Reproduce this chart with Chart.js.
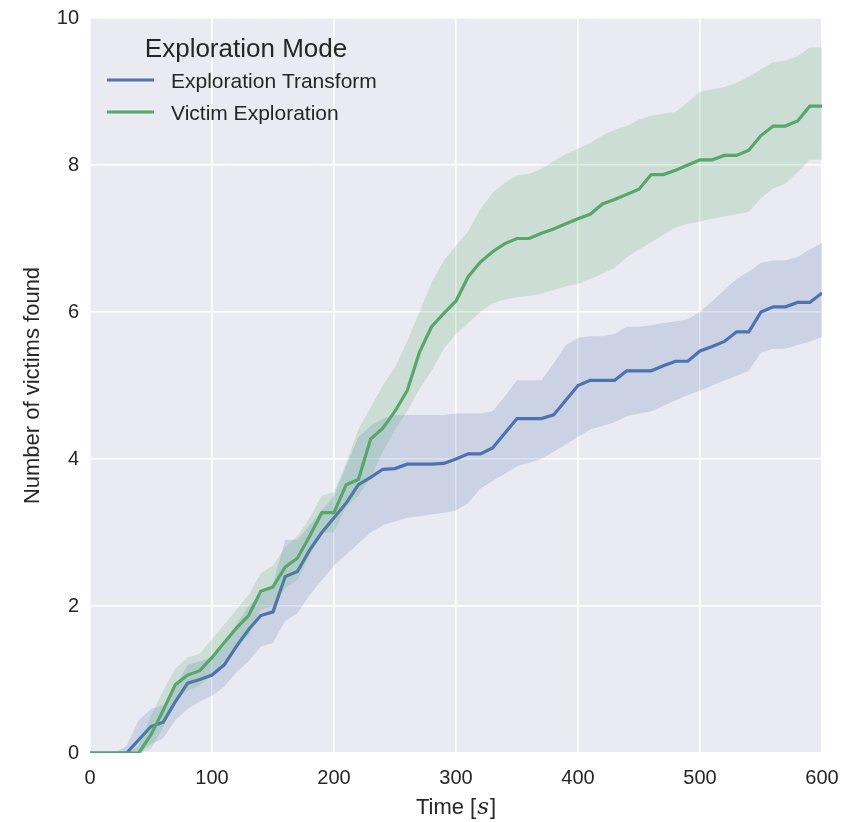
<!DOCTYPE html>
<html lang="en">
<head>
  <meta charset="UTF-8">
  <title>Number of victims found over time</title>
  <script src="https://cdn.jsdelivr.net/npm/chart.js"></script>
  <style>
    html, body { margin: 0; padding: 0; background: #fff; }
    #wrap { width: 859px; height: 822px; }
  </style>
</head>
<body>
<div id="wrap"><canvas id="victimsChart" width="859" height="822"></canvas></div>

<script>
  // time in seconds, one sample every 10 s
  const times = [0, 10, 20, 30, 40, 50, 60, 70, 80, 90,
    100, 110, 120, 130, 140, 150, 160, 170, 180, 190,
    200, 210, 220, 230, 240, 250, 260, 270, 280, 290,
    300, 310, 320, 330, 340, 350, 360, 370, 380, 390,
    400, 410, 420, 430, 440, 450, 460, 470, 480, 490,
    500, 510, 520, 530, 540, 550, 560, 570, 580, 590, 600];

  // Exploration Transform: mean and band
  const transformMean = [0, 0, 0, 0, 0.18, 0.36, 0.42, 0.7, 0.95, 1.0,
    1.06, 1.2, 1.45, 1.68, 1.87, 1.92, 2.4, 2.47, 2.76, 3.0,
    3.2, 3.4, 3.65, 3.75, 3.86, 3.87, 3.93, 3.93, 3.93, 3.94,
    4.0, 4.07, 4.07, 4.15, 4.35, 4.55, 4.55, 4.55, 4.6, 4.8,
    5.0, 5.07, 5.07, 5.07, 5.2, 5.2, 5.2, 5.27, 5.33, 5.33,
    5.47, 5.53, 5.6, 5.73, 5.73, 6.0, 6.07, 6.07, 6.13, 6.13, 6.26];
  const transformUpper = [0, 0, 0, 0.1, 0.45, 0.6, 0.65, 0.9, 1.2, 1.25,
    1.3, 1.45, 1.75, 2.0, 2.15, 2.3, 2.9, 2.9, 3.1, 3.3,
    3.5, 3.9, 4.3, 4.45, 4.55, 4.6, 4.6, 4.6, 4.6, 4.6,
    4.62, 4.62, 4.62, 4.65, 4.85, 5.07, 5.07, 5.07, 5.3, 5.55,
    5.65, 5.67, 5.67, 5.7, 5.8, 5.8, 5.82, 5.85, 5.87, 5.9,
    6.0, 6.15, 6.3, 6.45, 6.55, 6.67, 6.7, 6.7, 6.75, 6.85, 6.94];
  const transformLower = [0, 0, 0, 0, 0, 0.12, 0.2, 0.45, 0.6, 0.7,
    0.78, 0.9, 1.1, 1.25, 1.45, 1.5, 1.8, 1.9, 2.15, 2.35,
    2.55, 2.7, 2.85, 3.0, 3.1, 3.15, 3.2, 3.22, 3.25, 3.27,
    3.3, 3.4, 3.6, 3.7, 3.8, 3.9, 3.95, 4.0, 4.1, 4.2,
    4.3, 4.4, 4.45, 4.5, 4.58, 4.62, 4.65, 4.72, 4.8, 4.87,
    4.93, 5.0, 5.07, 5.13, 5.2, 5.45, 5.5, 5.5, 5.55, 5.6, 5.66];

  // Victim Exploration: mean and band
  const victimMean = [0, 0, 0, 0, 0, 0.25, 0.58, 0.93, 1.06, 1.12,
    1.3, 1.5, 1.7, 1.87, 2.2, 2.26, 2.53, 2.65, 2.95, 3.27,
    3.27, 3.65, 3.72, 4.27, 4.42, 4.65, 4.93, 5.45, 5.8, 5.98,
    6.15, 6.48, 6.68, 6.82, 6.93, 7.0, 7.0, 7.07, 7.13, 7.2,
    7.27, 7.33, 7.47, 7.53, 7.6, 7.67, 7.87, 7.87, 7.93, 8.0,
    8.07, 8.07, 8.13, 8.13, 8.2, 8.4, 8.53, 8.53, 8.6, 8.8, 8.8];
  const victimUpper = [0, 0, 0, 0, 0.1, 0.5, 0.85, 1.15, 1.3, 1.35,
    1.55, 1.75, 1.95, 2.15, 2.45, 2.55, 2.8, 2.95, 3.2, 3.5,
    3.55, 3.95, 4.4, 4.7, 5.0, 5.25, 5.6, 6.0, 6.4, 6.7,
    6.9, 7.1, 7.4, 7.62, 7.76, 7.86, 7.88, 7.95, 8.05, 8.15,
    8.22, 8.3, 8.4, 8.48, 8.53, 8.62, 8.67, 8.7, 8.72, 8.85,
    9.0, 9.03, 9.06, 9.12, 9.2, 9.3, 9.4, 9.42, 9.48, 9.6, 9.6];
  const victimLower = [0, 0, 0, 0, 0, 0.05, 0.35, 0.72, 0.85, 0.92,
    1.08, 1.25, 1.45, 1.6, 1.95, 2.0, 2.25, 2.35, 2.7, 3.0,
    3.0, 3.35, 3.5, 3.75, 4.1, 4.4, 4.65, 4.95, 5.2, 5.5,
    5.7, 5.85, 6.0, 6.12, 6.17, 6.2, 6.22, 6.25, 6.3, 6.35,
    6.38, 6.45, 6.52, 6.6, 6.75, 6.85, 6.95, 7.05, 7.15, 7.2,
    7.23, 7.27, 7.3, 7.33, 7.36, 7.55, 7.68, 7.75, 7.9, 8.07, 8.07];

  const xTicks = [0, 100, 200, 300, 400, 500, 600];
  const yTicks = [0, 2, 4, 6, 8, 10];
  const legendTitle = 'Exploration Mode';
  const legendOrder = ['Exploration Transform', 'Victim Exploration'];

  const BLUE = '#4C72B0';
  const GREEN = '#55A868';
  const FONT = '"Liberation Sans", Arial, sans-serif';

  function pts(arr) {
    return times.map((t, i) => ({ x: t, y: arr[i] }));
  }

  // seaborn-like grey plot area
  const bgPlugin = {
    id: 'bg',
    beforeDraw(chart) {
      const { ctx, chartArea: a } = chart;
      ctx.save();
      ctx.fillStyle = '#EAEAF2';
      ctx.fillRect(a.left, a.top, a.right - a.left, a.bottom - a.top);
      ctx.restore();
    }
  };

  // axis titles + legend inside the plot
  const labelPlugin = {
    id: 'labels',
    afterDraw(chart) {
      const { ctx, chartArea: a } = chart;
      ctx.save();
      ctx.fillStyle = '#262626';
      ctx.textBaseline = 'alphabetic';

      // y title
      ctx.save();
      ctx.translate(39, (a.top + a.bottom) / 2);
      ctx.rotate(-Math.PI / 2);
      ctx.textAlign = 'center';
      ctx.font = '22px ' + FONT;
      ctx.fillText('Number of victims found', 0, 0);
      ctx.restore();

      // x title, "s" in math italic
      const p1 = 'Time [', p2 = 's', p3 = ']';
      ctx.font = '22px ' + FONT;
      const w1 = ctx.measureText(p1).width, w3 = ctx.measureText(p3).width;
      ctx.font = 'italic 23px "DejaVu Serif", serif';
      const w2 = ctx.measureText(p2).width + 2;
      const x = (a.left + a.right) / 2 - (w1 + w2 + w3) / 2;
      const y = 814;
      ctx.textAlign = 'left';
      ctx.font = '22px ' + FONT;
      ctx.fillText(p1, x, y);
      ctx.font = 'italic 23px "DejaVu Serif", serif';
      ctx.fillText(p2, x + w1 + 1, y);
      ctx.font = '22px ' + FONT;
      ctx.fillText(p3, x + w1 + w2, y);

      // legend
      ctx.textAlign = 'center';
      ctx.font = '26px ' + FONT;
      ctx.fillText(legendTitle, 246, 57);
      legendOrder.forEach((name, i) => {
        const d = chart.data.datasets.find(ds => ds.label === name);
        const ly = 80 + i * 32;
        ctx.strokeStyle = d.borderColor;
        ctx.lineWidth = 3.2;
        ctx.beginPath();
        ctx.moveTo(107, ly);
        ctx.lineTo(154, ly);
        ctx.stroke();
        ctx.textAlign = 'left';
        ctx.font = '21px ' + FONT;
        ctx.fillText(d.label, 171, ly + 8);
      });
      ctx.restore();
    }
  };

  // datasets are drawn last-to-first, so green (index 0..2) ends up on top
  const datasets = [
    { label: 'Victim Exploration', data: pts(victimMean), borderColor: GREEN,
      borderWidth: 3.2, fill: false },
    { label: 'victim lower', data: pts(victimLower), borderWidth: 0, borderColor: 'transparent',
      backgroundColor: 'rgba(85,168,104,0.2)', fill: 2 },
    { label: 'victim upper', data: pts(victimUpper), borderWidth: 0, borderColor: 'transparent',
      fill: false },
    { label: 'Exploration Transform', data: pts(transformMean), borderColor: BLUE,
      borderWidth: 3.2, fill: false },
    { label: 'transform lower', data: pts(transformLower), borderWidth: 0, borderColor: 'transparent',
      backgroundColor: 'rgba(76,114,176,0.2)', fill: 5 },
    { label: 'transform upper', data: pts(transformUpper), borderWidth: 0, borderColor: 'transparent',
      fill: false }
  ];

  new Chart(document.getElementById('victimsChart').getContext('2d'), {
    type: 'line',
    data: { datasets: datasets },
    options: {
      responsive: false,
      animation: false,
      layout: { padding: { top: 18, right: 37, left: 0, bottom: 0 } },
      elements: { point: { radius: 0, hoverRadius: 0 }, line: { tension: 0 } },
      plugins: {
        legend: { display: false },
        tooltip: { enabled: false }
      },
      scales: {
        x: {
          type: 'linear',
          min: 0,
          max: 600,
          afterBuildTicks: s => { s.ticks = xTicks.map(v => ({ value: v })); },
          afterFit: s => { s.height = 69; },
          grid: { color: '#FFFFFF', lineWidth: 1.6, drawTicks: false },
          border: { display: false },
          ticks: { padding: 13, color: '#262626', font: { family: FONT, size: 20 } }
        },
        y: {
          min: 0,
          max: 10,
          afterBuildTicks: s => { s.ticks = yTicks.map(v => ({ value: v })); },
          afterFit: s => { s.width = 90; s.paddingTop = 0; s.paddingBottom = 0; },
          grid: { color: '#FFFFFF', lineWidth: 1.6, drawTicks: false },
          border: { display: false },
          ticks: { padding: 11, color: '#262626', font: { family: FONT, size: 20 } }
        }
      }
    },
    plugins: [bgPlugin, labelPlugin]
  });
</script>
</body>
</html>
